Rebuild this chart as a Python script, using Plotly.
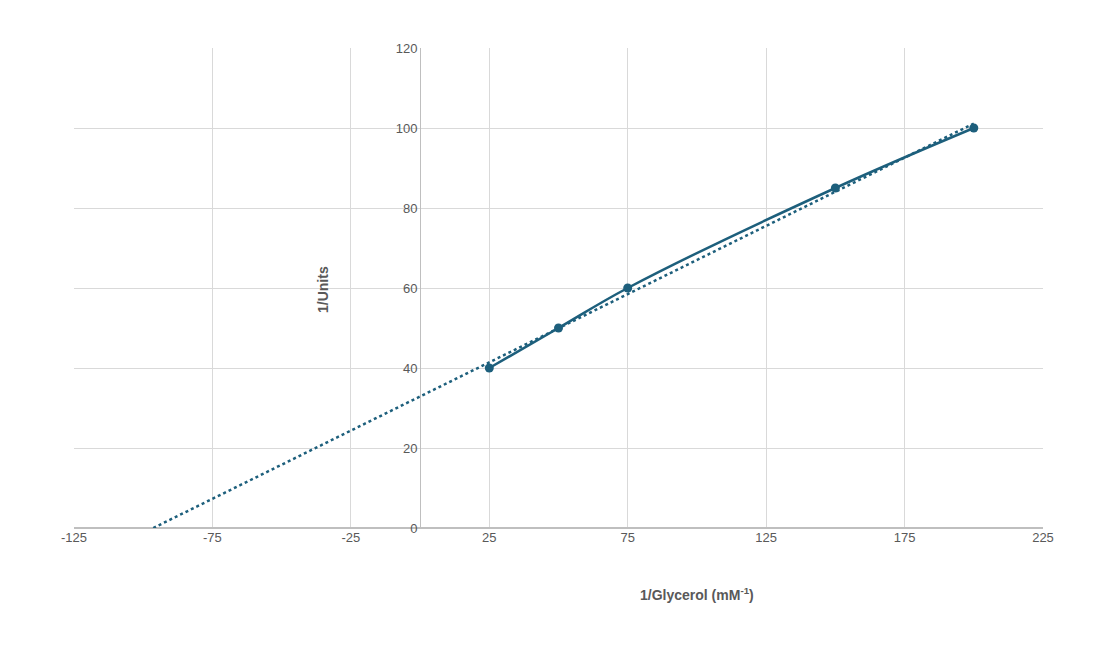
import numpy as np
import plotly.graph_objs as go

glycerol_inv = [25, 50, 75, 150, 200]
units_inv = [40, 50, 60, 85, 100]

x_ticks = [-125, -75, -25, 25, 75, 125, 175, 225]
x_labels = ["-125", "-75", "-25", "25", "75", "125", "175", "225"]
y_ticks = [0, 20, 40, 60, 80, 100, 120]

color = "#1d5f7c"
grey = "#595959"

# linear trendline from the data, extended back to y = 0
slope, intercept = np.polyfit(glycerol_inv, units_inv, 1)
trend_x = [-intercept / slope, max(glycerol_inv)]
trend_y = [slope * v + intercept for v in trend_x]

fig = go.Figure()
fig.add_trace(go.Scatter(x=trend_x, y=trend_y, mode="lines",
                         line=dict(color=color, width=2.5, dash="dot")))
fig.add_trace(go.Scatter(x=glycerol_inv, y=units_inv, mode="lines+markers",
                         line=dict(color=color, width=2.5, shape="spline"),
                         marker=dict(size=9, color=color)))

fig.update_layout(
    width=1105, height=647, showlegend=False,
    plot_bgcolor="white", paper_bgcolor="white",
    margin=dict(l=66, r=70, t=40, b=127),
    font=dict(family="Liberation Sans, Arial", size=13, color=grey),
    xaxis=dict(range=[-125, 225], tickvals=x_ticks, ticktext=x_labels,
               showgrid=True, gridcolor="#d9d9d9", zeroline=False,
               showline=False, ticks="", tickfont=dict(size=13, color=grey)),
    yaxis=dict(range=[0, 120], tickvals=y_ticks, showgrid=True,
               gridcolor="#d9d9d9", zeroline=True, zerolinecolor="#bfbfbf",
               showline=True, linecolor="#bfbfbf", anchor="free",
               position=125 / 350, ticks="", tickfont=dict(size=13, color=grey)),
    annotations=[
        dict(text="<b>1/Units</b>", x=(313 - 74) / 969, y=(528 - 290) / 480,
             xref="paper", yref="paper", showarrow=False, textangle=-90,
             font=dict(size=14, color=grey)),
        dict(text="<b>1/Glycerol (mM<sup>-1</sup>)</b>", x=(697 - 74) / 969,
             y=(528 - 605) / 480, xref="paper", yref="paper", showarrow=False,
             font=dict(size=14, color=grey)),
    ],
)

fig.write_html("out.html")
